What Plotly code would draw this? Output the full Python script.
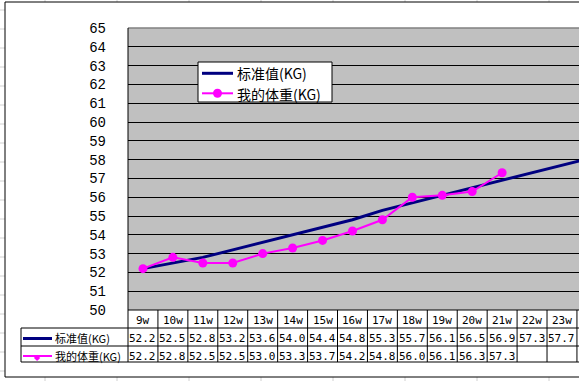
import plotly.graph_objects as go

weeks = ["9w", "10w", "11w", "12w", "13w", "14w", "15w", "16w", "17w",
         "18w", "19w", "20w", "21w", "22w", "23w", "24w"]
standard = [52.2, 52.5, 52.8, 53.2, 53.6, 54.0, 54.4, 54.8, 55.3,
            55.7, 56.1, 56.5, 56.9, 57.3, 57.7, 58.1]
mine = [52.2, 52.8, 52.5, 52.5, 53.0, 53.3, 53.7, 54.2, 54.8,
        56.0, 56.1, 56.3, 57.3]
y_ticks = list(range(50, 66))
name_std = "标准值(KG)"
name_mine = "我的体重(KG)"

NAVY, MAGENTA = "#000080", "#FF00FF"
W, H = 579, 381
L, T, B = 128, 28, 310  # plot area pixel edges
PW, PH = W - L, B - T


def px(x):
    return (x - L) / PW


def py(y):
    return (B - y) / PH


def pline(x0, y0, x1, y1, color="black", width=1, layer="above"):
    return dict(type="line", xref="paper", yref="paper",
                x0=px(x0), x1=px(x1), y0=py(y0), y1=py(y1),
                line=dict(color=color, width=width), layer=layer)


idx = list(range(len(weeks)))

fig = go.Figure()
fig.add_trace(go.Scatter(
    x=idx, y=standard, name=name_std, mode="lines",
    line=dict(color=NAVY, width=3), hoverinfo="skip", showlegend=False))
fig.add_trace(go.Scatter(
    x=idx[:len(mine)], y=mine, name=name_mine, mode="lines+markers",
    line=dict(color=MAGENTA, width=2),
    marker=dict(symbol="circle", size=9, color=MAGENTA), hoverinfo="skip",
    showlegend=False))

shapes = []
# faint spreadsheet grid outside the chart
for k in range(20):
    yy = 10 + 19 * k
    shapes.append(pline(0, yy, 5, yy, color="#D0D0D0", width=1, layer="below"))
for k in range(8):
    xx = 45 + 72 * k
    shapes.append(pline(xx, 0, xx, 2, color="#D0D0D0", width=1, layer="below"))
    shapes.append(pline(xx, 377, xx, 381, color="#D0D0D0", width=1, layer="below"))
# chart area border
shapes.append(dict(type="rect", xref="paper", yref="paper",
                   x0=px(5), x1=px(W + 20), y0=py(377), y1=py(2),
                   line=dict(color="black", width=1), layer="below"))
# top border of plot area (grey)
shapes.append(dict(type="line", xref="paper", yref="paper",
                   x0=0, x1=1, y0=1, y1=1,
                   line=dict(color="#808080", width=1.5), layer="above"))
# table horizontal lines
for yy in (328, 346, 362):
    shapes.append(pline(21, yy, W + 20, yy))
shapes.append(pline(L, B, W + 20, B))
# left side of row label box and plot-area left edge down to the table bottom
shapes.append(pline(21, 328, 21, 362))
shapes.append(pline(L, T, L, 362))
# column boundaries
for i in range(1, len(weeks) + 1):
    shapes.append(dict(type="line", xref="x", yref="paper",
                       x0=i - 0.5, x1=i - 0.5, y0=py(362), y1=0,
                       line=dict(color="black", width=1)))
# key samples in table
shapes.append(pline(23, 338.5, 52, 338.5, color=NAVY, width=3))
shapes.append(pline(23, 356, 52, 356, color=MAGENTA, width=2))

# legend (drawn in chart)
shapes.append(dict(type="rect", xref="paper", yref="paper",
                   x0=px(198), x1=px(332), y0=py(102), y1=py(62),
                   line=dict(color="black", width=1), fillcolor="white", layer="above"))
shapes.append(pline(202, 73.3, 233, 73.3, color=NAVY, width=3))
shapes.append(pline(202, 93.3, 233, 93.3, color=MAGENTA, width=2))
shapes.append(dict(type="circle", xref="paper", yref="paper",
                   x0=px(213), x1=px(222), y0=py(97.8), y1=py(88.8),
                   line=dict(color=MAGENTA, width=0), fillcolor=MAGENTA, layer="above"))

annotations = []
tfont = dict(family="DejaVu Sans Mono", size=11, color="black")
for i, w in enumerate(weeks):
    annotations.append(dict(x=i, y=py(320), xref="x", yref="paper", text=w,
                            showarrow=False, font=tfont, xanchor="center", yanchor="middle"))
    annotations.append(dict(x=i, y=py(338.5), xref="x", yref="paper",
                            text=f"{standard[i]:.1f}", showarrow=False, font=tfont,
                            xanchor="center", yanchor="middle"))
for i, v in enumerate(mine):
    annotations.append(dict(x=i, y=py(356), xref="x", yref="paper",
                            text=f"{v:.1f}", showarrow=False, font=tfont,
                            xanchor="center", yanchor="middle"))
lfont = dict(family="Noto Sans CJK SC", size=11, color="black")
annotations.append(dict(x=px(53), y=py(338), xref="paper", yref="paper", text=name_std,
                        showarrow=False, font=lfont, xanchor="left", yanchor="middle"))
annotations.append(dict(x=px(53), y=py(356), xref="paper", yref="paper", text=name_mine,
                        showarrow=False, font=lfont, xanchor="left", yanchor="middle"))
annotations.append(dict(x=px(37.5), y=py(356), xref="paper", yref="paper", text="◆",
                        showarrow=False, font=dict(size=8, color=MAGENTA),
                        xanchor="center", yanchor="middle"))
gfont = dict(family="Noto Sans CJK SC", size=14, color="black")
annotations.append(dict(x=px(235), y=py(73), xref="paper", yref="paper", text=name_std,
                        showarrow=False, font=gfont, xanchor="left", yanchor="middle"))
annotations.append(dict(x=px(235), y=py(93.5), xref="paper", yref="paper", text=name_mine,
                        showarrow=False, font=gfont, xanchor="left", yanchor="middle"))

fig.update_layout(
    width=W, height=H,
    margin=dict(l=L, r=0, t=T, b=H - B, pad=0),
    paper_bgcolor="white",
    plot_bgcolor="#C0C0C0",
    showlegend=False,
    xaxis=dict(range=[-0.5, -0.5 + PW / 29.93], showgrid=False, showticklabels=False,
               zeroline=False, showline=False, fixedrange=True, automargin=False),
    yaxis=dict(range=[50, 65], tickvals=y_ticks, showgrid=True, gridcolor="black",
               gridwidth=1, zeroline=False, showline=False,
               ticks="", ticklabelstandoff=21, automargin=False,
               tickfont=dict(family="Liberation Mono", size=14, color="black"),
               fixedrange=True),
    shapes=shapes,
    annotations=annotations,
)

fig.write_html("out.html", config={"displayModeBar": False},
               post_script="document.body.style.margin='0';document.body.style.overflow='hidden';")
